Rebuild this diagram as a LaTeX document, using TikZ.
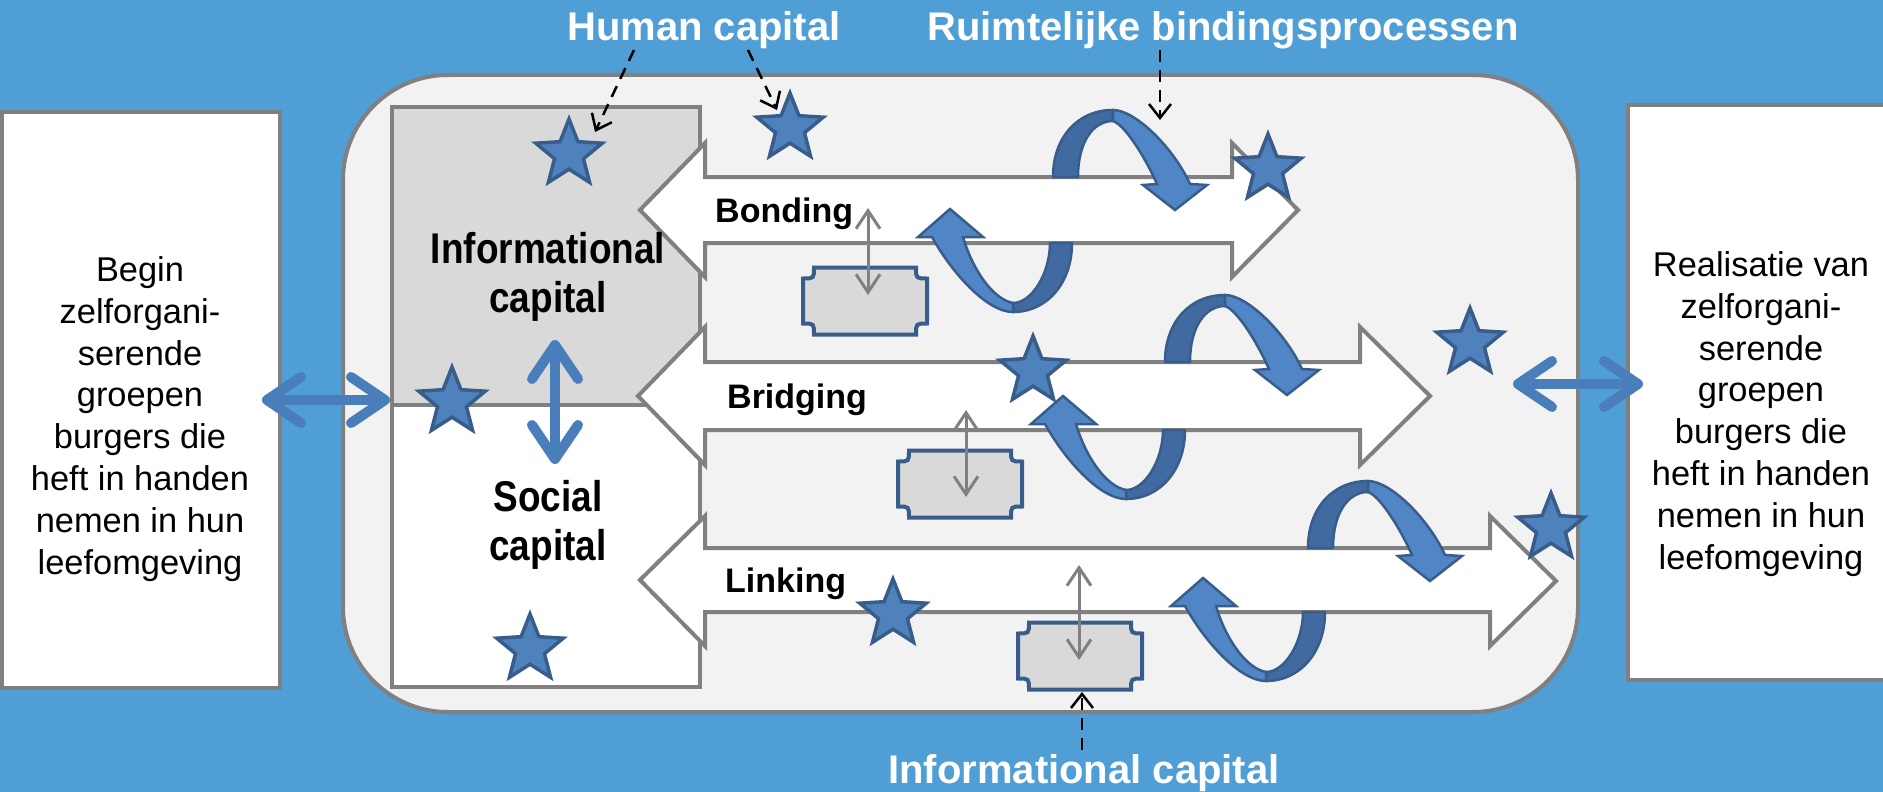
\documentclass[tikz,border=0pt]{standalone}
\usepackage{fontspec}
\setmainfont{Liberation Sans}
\usepackage{graphicx}
\usetikzlibrary{arrows.meta,shapes.geometric}

\definecolor{bg}{RGB}{80,158,214}
\definecolor{bordergray}{RGB}{128,128,128}
\definecolor{panelgray}{RGB}{242,242,242}
\definecolor{infogray}{RGB}{217,217,217}
\definecolor{arrowblue}{RGB}{74,126,187}
\definecolor{starfill}{RGB}{79,129,189}
\definecolor{stardark}{RGB}{56,93,138}
\definecolor{ribbonlight}{RGB}{80,134,198}
\definecolor{ribbondark}{RGB}{64,106,160}

\newcommand\topribbon[2]{%
\begin{scope}[shift={(#1,#2)}]
\filldraw[ribbonback] (0,0) .. controls (0,-40) and (25,-67) .. (60,-67) -- (60,-56) .. controls (40,-56) and (25,-35) .. (25,0) -- cycle;
\filldraw[ribbonfront] (60,-67) .. controls (82,-67) and (120,-30) .. (137,7) -- (154,8) -- (122,33) -- (90,8) -- (104,7) .. controls (92,-20) and (72,-52) .. (60,-56) -- cycle;
\end{scope}}

\newcommand\botribbon[2]{%
\begin{scope}[shift={(#1,#2)}]
\filldraw[ribbonback] (-59,69) .. controls (-25,69) and (0,40) .. (0,0) -- (-22,0) .. controls (-22,30) and (-40,60) .. (-59,60) -- cycle;
\filldraw[ribbonfront] (-140,-6) .. controls (-120,30) and (-85,69) .. (-59,69) -- (-59,60) .. controls (-80,56) and (-100,25) .. (-109,-6) -- (-89,-6) -- (-122,-34) -- (-154,-6) -- cycle;
\end{scope}}

\newcommand\myplaque[2]{%
\begin{scope}[shift={(#1,#2)}]
\draw[plaquestyle] (-51,-33.5) -- (51,-33.5) .. controls (51,-22.5) .. (62,-22.5) -- (62,22.5) .. controls (51,22.5) .. (51,33.5) -- (-51,33.5) .. controls (-51,22.5) .. (-62,22.5) -- (-62,-22.5) .. controls (-51,-22.5) .. (-51,-33.5) -- cycle;
\end{scope}}

\begin{document}
\begin{tikzpicture}[x=1pt,y=-1pt,
  box/.style={draw=bordergray, line width=4pt, fill=white, inner sep=0pt},
  band/.style={draw=bordergray, line width=4pt, fill=white, line join=miter},
  plaquestyle/.style={draw=stardark, line width=4pt, fill=infogray},
  starnode/.style={star, star points=5, star point ratio=2.3, minimum size=70pt, inner sep=0pt, fill=starfill, draw=stardark, line width=3.5pt},
  ribbonback/.style={fill=ribbondark, draw=stardark, line width=2.5pt, line join=round},
  ribbonfront/.style={fill=ribbonlight, draw=stardark, line width=2.5pt, line join=miter},
  bluearrow/.style={draw=arrowblue, line width=10pt, line cap=round, >={Straight Barb[length=34pt,width=46pt,round]}, <->},
  grayarrow/.style={draw=bordergray, line width=3pt, >={Straight Barb[length=18pt,width=24pt]}, <->},
  dasharrow/.style={draw=black, line width=2.5pt, dash pattern=on 12pt off 8pt, -{Straight Barb[length=14pt,width=22pt]}},
  titletext/.style={text=white, font=\fontsize{40}{48}\selectfont\bfseries, inner sep=0pt},
  sidetext/.style={font=\fontsize{34.4}{41.9}\selectfont, align=center, inner sep=0pt},
  captext/.style={font=\fontsize{43}{48.5}\selectfont\bfseries, align=center, inner sep=0pt},
  bandtext/.style={font=\fontsize{34}{40}\selectfont\bfseries, inner sep=0pt, anchor=base west}
]
\useasboundingbox (0,0) rectangle (1883,792);
\fill[bg] (0,0) rectangle (1883,792);

% side boxes
\node[box, minimum width=278pt, minimum height=576pt] (leftbox) at (141,400) {};
\node[box, minimum width=267pt, minimum height=575pt] (rightbox) at (1761.5,392.5) {};
\node[sidetext] (lefttext) at (140,419) {Begin\\zelforgani-\\serende\\groepen\\burgers die\\heft in handen\\nemen in hun\\leefomgeving};
\node[sidetext] (righttext) at (1761,414) {Realisatie van\\zelforgani-\\serende\\groepen\\burgers die\\heft in handen\\nemen in hun\\leefomgeving};

% central panel
\node[box, fill=panelgray, rounded corners=105pt, minimum width=1235pt, minimum height=637pt] (panel) at (960.5,393.5) {};

% capital boxes
\node[box, fill=infogray, minimum width=308pt, minimum height=298pt] (infobox) at (546,256) {};
\node[box, minimum width=308pt, minimum height=282pt] (socialbox) at (546,546) {};

% bands
\draw[band] (640,210) -- (705,143) -- (705,177) -- (1232,177) -- (1232,143) -- (1298,210) -- (1232,277) -- (1232,243) -- (705,243) -- (705,277) -- cycle;
\draw[band] (638,396) -- (705,327) -- (705,362) -- (1360,362) -- (1360,327) -- (1430,396) -- (1360,465) -- (1360,430) -- (705,430) -- (705,465) -- cycle;
\draw[band] (640,580) -- (705,516) -- (705,548) -- (1490,548) -- (1490,516) -- (1556,581) -- (1490,646) -- (1490,612) -- (705,612) -- (705,646) -- cycle;

% plaques
\myplaque{865}{301}
\myplaque{960}{484}
\myplaque{1080}{656}

% gray double arrows
\coordinate (g1a) at (868,208); \coordinate (g1b) at (868,295);
\coordinate (g2a) at (966,410); \coordinate (g2b) at (966,497);
\coordinate (g3a) at (1079,565); \coordinate (g3b) at (1079,660);
\draw[grayarrow] (g1a) -- (g1b);
\draw[grayarrow] (g2a) -- (g2b);
\draw[grayarrow] (g3a) -- (g3b);

% ribbons
\topribbon{1053}{177}
\botribbon{1072}{243}
\topribbon{1165}{362}
\botribbon{1185}{430}
\topribbon{1308}{548}
\botribbon{1325}{612}

% labels in bands
\node[bandtext] (bonding) at (715,222) {Bonding};
\node[bandtext] (bridging) at (727,408) {Bridging};
\node[bandtext] (linking) at (725,592) {Linking};

% capital texts
\node[captext] (infotext) at (548,277) {\scalebox{0.86}[1]{Informational}\\\scalebox{0.86}[1]{capital}};
\node[captext] (socialtext) at (548,525) {\scalebox{0.86}[1]{Social}\\\scalebox{0.86}[1]{capital}};

% blue arrows
\coordinate (la) at (262,400); \coordinate (lb) at (390,400);
\coordinate (ra) at (1513,384); \coordinate (rb) at (1643,384);
\coordinate (va) at (555,340); \coordinate (vb) at (555,464);
\draw[bluearrow] (la) -- (lb);
\draw[bluearrow] (ra) -- (rb);
\draw[bluearrow] (va) -- (vb);

% stars
\node[starnode] (s1) at (569,154) {};
\node[starnode] (s2) at (790,128) {};
\node[starnode] (s3) at (1268,169) {};
\node[starnode] (s4) at (452,402) {};
\node[starnode] (s5) at (1033,371) {};
\node[starnode] (s6) at (1470,343) {};
\node[starnode] (s7) at (893,614) {};
\node[starnode] (s8) at (530,649) {};
\node[starnode] (s9) at (1551,528) {};

% titles
\node[titletext, anchor=base] (human) at (704,41) {Human capital};
\node[titletext, anchor=base] (ruimte) at (1223,41) {Ruimtelijke bindingsprocessen};
\node[titletext, anchor=base] (infocap) at (1084,783) {Informational capital};

% dashed arrows
\coordinate (d1a) at (634,50); \coordinate (d1b) at (595,132);
\coordinate (d2a) at (748,50); \coordinate (d2b) at (777,110);
\coordinate (d3a) at (1160,50); \coordinate (d3b) at (1160,120);
\coordinate (d4a) at (1082,750); \coordinate (d4b) at (1082,692);
\draw[dasharrow] (d1a) -- (d1b);
\draw[dasharrow] (d2a) -- (d2b);
\draw[dasharrow] (d3a) -- (d3b);
\draw[dasharrow] (d4a) -- (d4b);
\end{tikzpicture}
\end{document}
